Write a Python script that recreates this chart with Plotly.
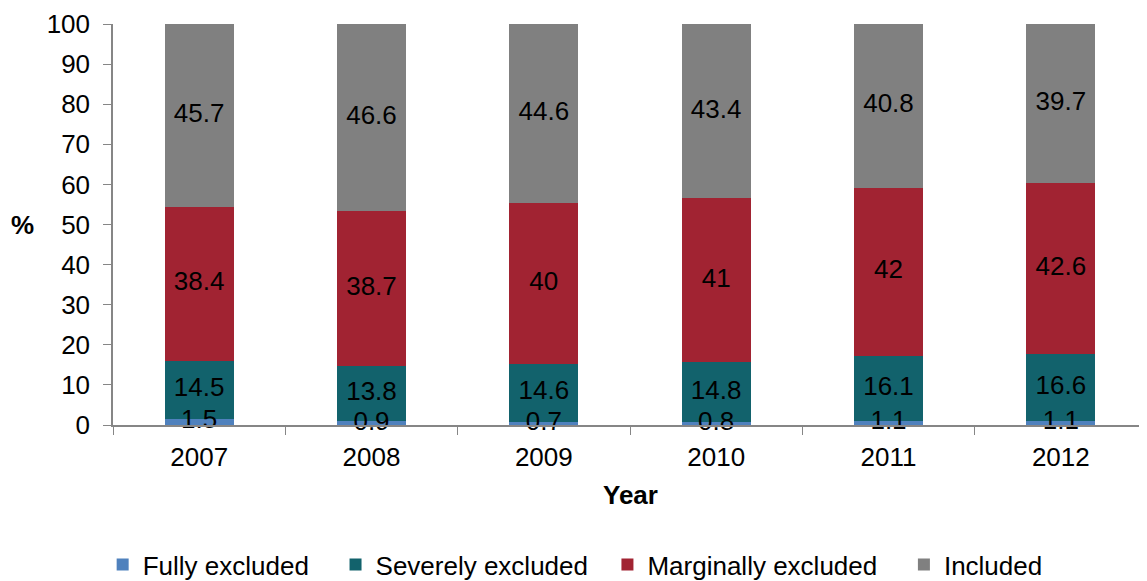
import plotly.graph_objects as go

years = ["2007", "2008", "2009", "2010", "2011", "2012"]
fully = [1.5, 0.9, 0.7, 0.8, 1.1, 1.1]
severely = [14.5, 13.8, 14.6, 14.8, 16.1, 16.6]
marginally = [38.4, 38.7, 40, 41, 42, 42.6]
included = [45.7, 46.6, 44.6, 43.4, 40.8, 39.7]

series = [
    ("Fully excluded", fully, "#4F81BD"),
    ("Severely excluded", severely, "#12626C"),
    ("Marginally excluded", marginally, "#A12332"),
    ("Included", included, "#808080"),
]
legend_pad = [3, 2, 3, 0]

FONT = "Liberation Sans, Arial, sans-serif"
FS = 26

fig = go.Figure()
base = [0.0] * len(years)
lab_x, lab_y, lab_t = [], [], []
for k, (name, vals, col) in enumerate(series):
    fig.add_trace(go.Bar(
        x=years, y=vals, name=name + "\u00a0" * legend_pad[k],
        marker=dict(color=col, line=dict(width=0)),
    ))
    for i, v in enumerate(vals):
        lab_x.append(years[i])
        lab_y.append(base[i] + v / 2)
        lab_t.append(f"{v:g}")
        base[i] += v

fig.add_trace(go.Scatter(
    x=lab_x, y=lab_y, text=lab_t, mode="text", showlegend=False,
    textfont=dict(color="black", size=FS, family=FONT), cliponaxis=False,
    hoverinfo="skip",
))

fig.update_layout(
    barmode="stack", bargap=0.6,
    width=1139, height=573,
    margin=dict(l=105, r=0, t=16, b=156, autoexpand=False),
    plot_bgcolor="white", paper_bgcolor="white",
    font=dict(family=FONT, size=FS, color="black"),
    legend=dict(orientation="h", x=-0.01, xanchor="left", y=-0.348, yanchor="middle",
                font=dict(size=FS), itemwidth=30, traceorder="normal"),
    showlegend=True,
)
fig.update_xaxes(
    type="category", showline=True, linecolor="#868686", linewidth=1.5,
    ticks="outside", tickson="boundaries", ticklen=8, tickcolor="#868686",
    showgrid=False, tickfont=dict(size=FS), automargin=False, ticklabelstandoff=8,
    ticklabeloverflow="allow",
)
fig.update_yaxes(
    range=[0, 100], dtick=10, showline=True, linecolor="#868686", linewidth=1.5,
    ticks="outside", ticklen=8, tickcolor="#868686", showgrid=False,
    zeroline=False, tickfont=dict(size=FS), automargin=False, ticklabelstandoff=8,
    ticklabeloverflow="allow",
)
fig.add_annotation(text="<b>%</b>", xref="paper", yref="paper", x=-0.088, y=0.5,
                   xanchor="center", yanchor="middle", showarrow=False,
                   font=dict(size=FS))
fig.add_annotation(text="<b>Year</b>", xref="paper", yref="paper", x=0.5, y=-0.174,
                   xanchor="center", yanchor="middle", showarrow=False,
                   font=dict(size=FS))

fig.write_html("out.html")
